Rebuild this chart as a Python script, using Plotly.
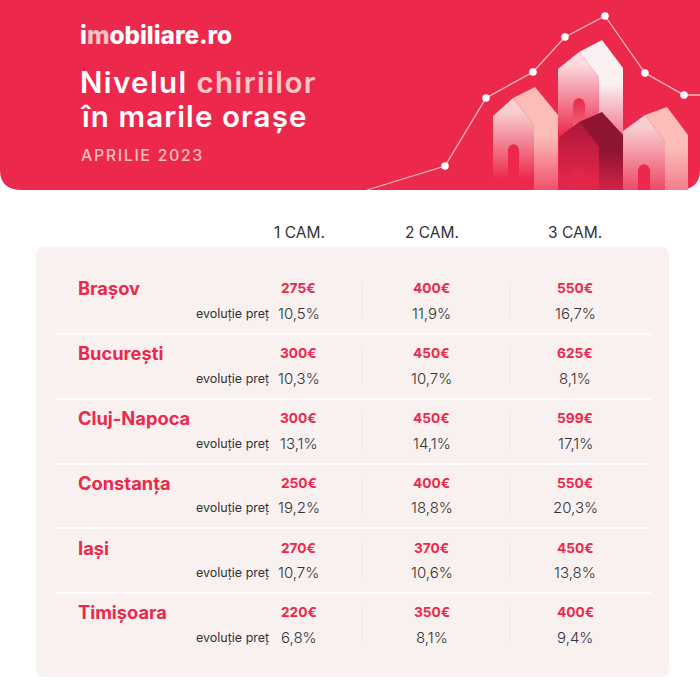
import plotly.graph_objects as go

# ---------- data ----------
cities = ["Brașov", "București", "Cluj-Napoca", "Constanța", "Iași", "Timișoara"]
columns = ["1 CAM.", "2 CAM.", "3 CAM."]
rent_1 = ["275€", "300€", "300€", "250€", "270€", "220€"]
rent_2 = ["400€", "450€", "450€", "400€", "370€", "350€"]
rent_3 = ["550€", "625€", "599€", "550€", "450€", "400€"]
evo_1 = ["10,5%", "10,3%", "13,1%", "19,2%", "10,7%", "6,8%"]
evo_2 = ["11,9%", "10,7%", "14,1%", "18,8%", "10,6%", "8,1%"]
evo_3 = ["16,7%", "8,1%", "17,1%", "20,3%", "13,8%", "9,4%"]

# decorative trend line of the banner
trend_x = [367, 445, 486, 533, 565, 605, 645, 684, 700]
trend_y = [190, 166, 98, 72, 37, 16, 73, 95, 95]

RED = "#EC294D"
PANEL = "#F9F1EF"
DARK = "#333335"
FONT = "Inter"

row_y = [288, 353, 418, 483, 548, 612]
evo_y = [313, 378, 443, 507, 572, 637]
sep_y = [334, 399, 464, 528, 593]
col_x = [298.5, 431.5, 575]
head_x = [299, 432, 574.5]

fig = go.Figure()
shapes = []

# banner and panel
shapes.append(dict(type="path", layer="below", line_width=0, fillcolor=RED,
                   path="M0,0 L700,0 L700,170 Q700,190 678,190 L22,190 Q0,190 0,170 Z"))
shapes.append(dict(type="path", layer="below", line_width=0, fillcolor=PANEL,
                   path="M44,247 L661,247 Q669,247 669,255 L669,669 Q669,677 661,677 L44,677 Q36,677 36,669 L36,255 Q36,247 44,247 Z"))
for y in sep_y:
    shapes.append(dict(type="line", layer="below", x0=56, x1=651, y0=y, y1=y,
                       line=dict(color="#FFFFFF", width=1.5)))
for y in row_y:
    for x in (362, 510):
        shapes.append(dict(type="line", layer="below", x0=x, x1=x, y0=y - 6, y1=y + 31,
                           line=dict(color="#ECE4E3", width=1)))


def poly(pts, top, bottom, hold=0.0, fade=0.0):
    xs = [p[0] for p in pts] + [pts[0][0]]
    ys = [p[1] for p in pts] + [pts[0][1]]
    fig.add_trace(go.Scatter(
        x=xs, y=ys, mode="lines", line=dict(width=0), fill="toself", hoverinfo="skip",
        showlegend=False,
        fillgradient=dict(type="vertical",
                          colorscale=[[0, bottom], [fade, bottom], [1 - hold, top], [1, top]])))


def door(x0, x1, top, bot, color_top, color_bot):
    r = (x1 - x0) / 2
    xs = [x0, x0, x0 + r * 0.3, x0 + r, x1 - r * 0.3, x1, x1, x0]
    ys = [bot, top + r, top + r * 0.3, top, top + r * 0.3, top + r, bot, bot]
    fig.add_trace(go.Scatter(
        x=xs, y=ys, mode="lines", line=dict(width=0), fill="toself", hoverinfo="skip",
        showlegend=False,
        fillgradient=dict(type="vertical", colorscale=[[0, color_bot], [1, color_top]])))


# tall house
poly([(558, 69), (579, 52), (599, 77), (599, 150), (558, 150)], "#FBDDE0", RED, 0.12, 0.15)
poly([(579, 52), (602, 40), (623, 68), (623, 145), (599, 145), (599, 77)], "#F9F1F1", "#F0607A", 0.42, 0.0)
door(573, 585, 98, 132, RED, "#EF6A80")
# left house
poly([(493, 116), (513, 98), (534, 125), (534, 190), (493, 190)], "#F8CFD0", RED, 0.15, 0.12)
poly([(513, 98), (535, 87), (558, 115), (558, 190), (534, 190), (534, 125)], "#FCBDB8", "#F0506C", 0.47, 0.0)
door(508, 519, 144, 190, RED, RED)
# right house
poly([(623, 131), (645, 115), (665, 142), (665, 190), (623, 190)], "#F8CFD0", "#EE4A66", 0.15, 0.0)
poly([(645, 115), (667, 107), (688, 135), (688, 190), (665, 190), (665, 142)], "#FCBDB8", "#F27C8E", 0.5, 0.0)
door(638, 650, 164, 190, RED, RED)
# dark house
poly([(559, 137), (579, 122), (599, 147), (599, 190), (559, 190)], "#B4183C", "#E2254A", 0.1, 0.15)
poly([(579, 122), (602, 112), (623, 135), (623, 190), (599, 190), (599, 147)], "#8F1530", "#D5214A", 0.5, 0.0)
door(573, 585, 168, 190, "#E2254A", "#E4264B")

# trend line
fig.add_trace(go.Scatter(
    x=trend_x, y=trend_y, mode="lines", hoverinfo="skip", showlegend=False,
    line=dict(color="#F9B9BF", width=1.3)))
fig.add_trace(go.Scatter(
    x=trend_x[1:-1], y=trend_y[1:-1], mode="markers", hoverinfo="skip", showlegend=False,
    marker=dict(color="#FFFFFF", size=7.5, line_width=0)))

ann = []


def text(x, y, s, size, color, anchor="left", weight=400):
    shift = {"left": -2, "right": 2, "center": 0}[anchor]
    ann.append(dict(x=x, y=y, text=s, showarrow=False, xanchor=anchor, yanchor="middle", xshift=shift,
                    font=dict(family=FONT, size=size, color=color, weight=weight),
                    xref="x", yref="y"))


text(80, 35, 'i<span style="color:#F9C3C3">m</span>obiliare.ro', 24.3, "#FFFFFF", weight=800)
text(80, 81.5, 'Nivelul <span style="color:#FAC6C6">chiriilor</span>', 29.5, "#FFFFFF", weight=600)
text(80, 116, "în marile orașe", 29.5, "#FFFFFF", weight=600)
text(81, 155, "APRILIE 2023", 16, "#FBBDB8", weight=500)

for x, c in zip(head_x, columns):
    text(x, 232, c, 15.5, DARK, "center")

rents = [rent_1, rent_2, rent_3]
evos = [evo_1, evo_2, evo_3]
for i, city in enumerate(cities):
    text(78, row_y[i], city, 18.3, RED, weight=700)
    text(269, evo_y[i], "evoluție preț", 12.5, DARK, "right")
    for x, r, e in zip(col_x, rents, evos):
        text(x, row_y[i], r[i], 13.7, RED, "center", weight=700)
        text(x, evo_y[i], e[i], 15, DARK, "center", weight=300)

fig.update_layout(
    width=700, height=680, margin=dict(l=0, r=0, t=0, b=0),
    paper_bgcolor="#FFFFFF", plot_bgcolor="rgba(0,0,0,0)",
    shapes=shapes, annotations=ann, showlegend=False,
    xaxis=dict(range=[0, 700], visible=False, fixedrange=True),
    yaxis=dict(range=[680, 0], visible=False, fixedrange=True),
)
fig.write_html("out.html", config=dict(displayModeBar=False),
               post_script="""document.body.style.margin='0';document.body.style.overflow='hidden';
var sp=[['APRILIE',1.6],['Nivelul',1.4],['în marile',1.1]];
document.querySelectorAll('.annotation-text').forEach(function(t){
  sp.forEach(function(s){
    if(t.textContent.indexOf(s[0])===0){
      var b=t.getBBox().x; t.style.letterSpacing=s[1]+'px';
      var a=t.getBBox().x; t.setAttribute('x',parseFloat(t.getAttribute('x'))+b-a);
    }
  });
});""")
